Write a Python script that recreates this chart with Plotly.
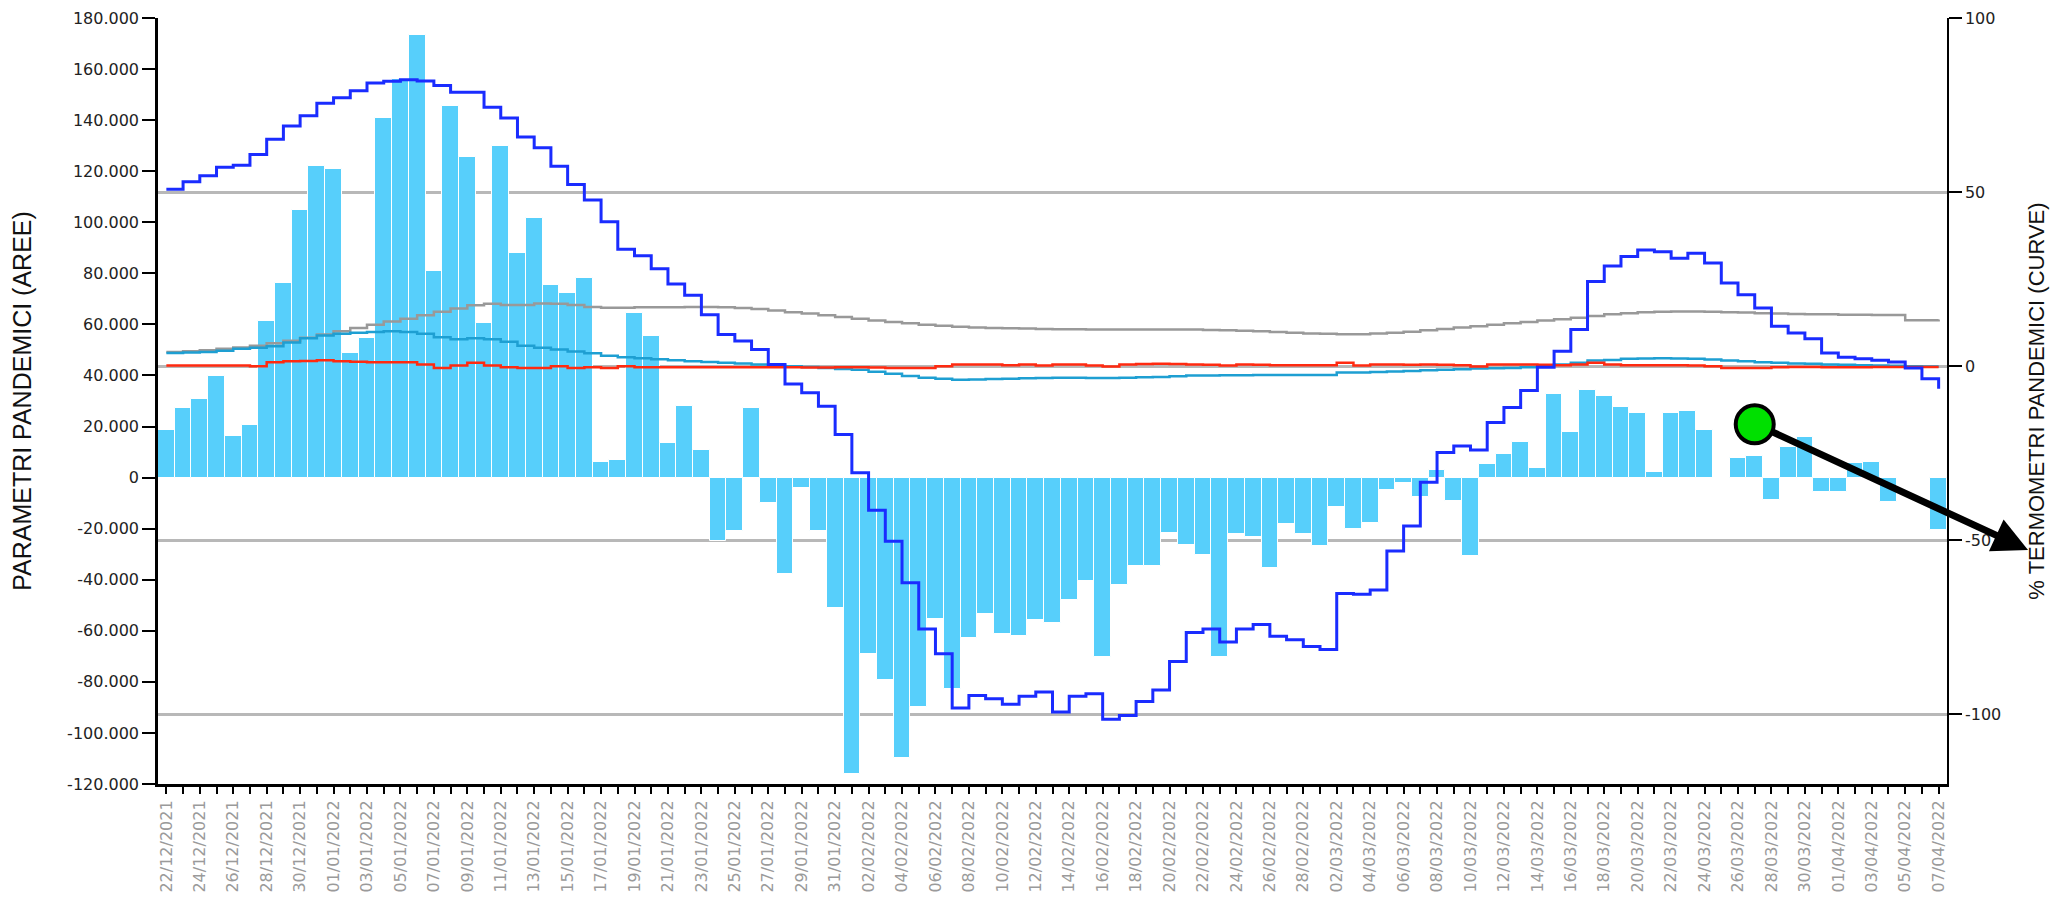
import pandas as pd
import plotly.graph_objects as go

# giorni dal 22/12/2021 al 07/04/2022
dates = [d.strftime("%d/%m/%Y") for d in pd.date_range("2021-12-22", "2022-04-07", freq="D")]

# aree (asse sinistro)
aree = [
    18500, 27200, 30600, 39700, 16200, 20700, 61400, 76100, 105000, 122000,
    121000, 48900, 54600, 140800, 156000, 173200, 80800, 145400, 125500, 60700,
    129900, 88100, 101700, 75400, 72200, 78200, 6300, 6800, 64600, 55400,
    13600, 28200, 10800, -25000, -20800, 27300, -10000, -37700, -4200, -20800,
    -51200, -116000, -68900, -79300, -110000, -89900, -55400, -82700, -62900, -53300,
    -61400, -62200, -55700, -57000, -48100, -40300, -70200, -42000, -34500, -34500,
    -21500, -26400, -30200, -70400, -22100, -23400, -35400, -18200, -22200, -26600,
    -11700, -20000, -17600, -4800, -2200, -7700, 3100, -9200, -30600, 5300,
    9200, 13900, 3600, 32700, 18000, 34200, 31900, 27500, 25200, 2200,
    25200, 26100, 18700, 0, 7800, 8400, -8700, 11800, 15900, -5500,
    -5500, 5900, 6300, -9600, 0, 0, -20700,
]

# curve (asse destro, %)
curva_blu = [
    50.8, 53.0, 54.7, 57.1, 57.7, 60.8, 65.2, 69.0, 71.9, 75.5,
    77.1, 79.1, 81.3, 81.8, 82.3, 81.9, 80.6, 78.7, 78.7, 74.4,
    71.3, 65.8, 62.7, 57.4, 52.2, 47.7, 41.5, 33.6, 31.7, 28.0,
    23.6, 20.4, 14.8, 9.1, 7.2, 4.8, 0.5, -5.1, -7.6, -11.5,
    -19.6, -30.6, -41.4, -50.3, -62.2, -75.5, -82.6, -98.2, -94.6, -95.5,
    -97.1, -94.8, -93.6, -99.3, -94.8, -94.1, -101.4, -100.3, -96.3, -93.0,
    -84.8, -76.5, -75.5, -79.2, -75.5, -74.2, -77.6, -78.6, -80.5, -81.4,
    -65.3, -65.5, -64.3, -53.1, -45.9, -33.3, -24.8, -22.9, -24.1, -16.2,
    -11.9, -7.0, -0.3, 4.3, 10.5, 24.3, 28.8, 31.5, 33.4, 32.9,
    31.0, 32.4, 29.6, 23.9, 20.5, 16.7, 11.5, 9.5, 7.9, 3.8,
    2.6, 2.1, 1.7, 1.2, -0.5, -3.6, -6.5,
]
curva_grigia = [
    4.1, 4.3, 4.6, 5.0, 5.4, 5.9, 6.6, 7.3, 8.2, 9.1,
    10.0, 11.0, 11.9, 12.8, 13.6, 14.6, 15.6, 16.6, 17.5, 17.9,
    17.6, 17.6, 18.0, 17.9, 17.6, 17.0, 16.8, 16.8, 16.9, 16.9,
    16.9, 17.0, 17.0, 16.9, 16.7, 16.4, 16.0, 15.5, 15.1, 14.6,
    14.1, 13.6, 13.1, 12.7, 12.3, 11.9, 11.6, 11.3, 11.1, 11.0,
    10.9, 10.8, 10.7, 10.6, 10.6, 10.5, 10.5, 10.5, 10.5, 10.5,
    10.5, 10.5, 10.4, 10.3, 10.2, 10.0, 9.8, 9.6, 9.4, 9.3,
    9.2, 9.2, 9.4, 9.6, 9.9, 10.3, 10.7, 11.1, 11.5, 11.9,
    12.3, 12.7, 13.1, 13.5, 13.9, 14.4, 14.9, 15.2, 15.5, 15.6,
    15.7, 15.7, 15.6, 15.5, 15.4, 15.2, 15.1, 15.0, 14.9, 14.9,
    14.8, 14.8, 14.7, 14.7, 13.2, 13.2, 13.4,
]
curva_azzurra = [
    3.8, 3.9, 4.1, 4.4, 5.0, 5.3, 5.7, 6.8, 8.0, 8.8,
    9.3, 9.6, 9.8, 10.0, 9.8, 9.3, 8.3, 7.7, 8.0, 7.7,
    7.0, 5.9, 5.3, 4.8, 4.2, 3.7, 3.0, 2.6, 2.3, 2.0,
    1.7, 1.4, 1.2, 1.0, 0.8, 0.5, 0.3, 0.0, -0.2, -0.5,
    -0.8, -1.0, -1.6, -2.2, -2.8, -3.3, -3.6, -3.9, -3.8, -3.7,
    -3.6, -3.5, -3.4, -3.3, -3.3, -3.4, -3.4, -3.3, -3.2, -3.1,
    -2.9, -2.7, -2.7, -2.6, -2.6, -2.5, -2.5, -2.5, -2.5, -2.5,
    -1.8, -1.8, -1.7, -1.5, -1.4, -1.2, -1.0, -0.9, -0.7, -0.6,
    -0.5, -0.3, 0.0, 0.5, 1.0, 1.6, 1.8, 2.1, 2.2, 2.3,
    2.2, 2.1, 1.9, 1.6, 1.4, 1.1, 1.0, 0.8, 0.7, 0.5,
    0.4, 0.3, 0.2, 0.1, 0.0, -0.1, -0.1,
]
curva_rossa = [
    0.2, 0.2, 0.2, 0.2, 0.2, 0.0, 1.1, 1.4, 1.5, 1.7,
    1.4, 1.3, 1.1, 1.1, 1.1, 0.5, -0.5, 0.2, 1.0, 0.2,
    -0.3, -0.5, -0.5, 0.0, -0.5, -0.3, -0.5, 0.0, -0.3, -0.3,
    -0.3, -0.3, -0.3, -0.3, -0.3, -0.3, -0.3, -0.3, -0.4, -0.4,
    -0.3, -0.3, -0.4, -0.5, -0.5, -0.5, 0.0, 0.5, 0.5, 0.5,
    0.3, 0.5, 0.2, 0.5, 0.5, 0.2, -0.1, 0.5, 0.6, 0.7,
    0.6, 0.5, 0.4, 0.2, 0.5, 0.4, 0.3, 0.3, 0.3, 0.3,
    1.0, 0.2, 0.5, 0.5, 0.4, 0.5, 0.4, 0.3, -0.1, 0.5,
    0.5, 0.5, 0.4, 0.3, 0.5, 1.0, 0.5, 0.3, 0.3, 0.3,
    0.3, 0.2, 0.0, -0.5, -0.5, -0.5, -0.3, -0.2, -0.2, -0.3,
    -0.3, -0.3, -0.2, -0.2, -0.2, -0.2, -0.2,
]

# indicatore (pallino verde)
marker_date = "27/03/2022"
marker_value = -16.7

left_ticks = list(range(-120000, 180001, 20000))
right_ticks = [-100, -50, 0, 50, 100]

fig = go.Figure()

fig.add_trace(go.Bar(
    x=dates, y=aree, yaxis="y",
    marker=dict(color="#57cffb", line=dict(color="white", width=1)),
))

for vals, col, w in [
    (curva_grigia, "#999999", 2.5),
    (curva_azzurra, "#1e9fd2", 2.5),
    (curva_rossa, "#ff2a10", 2.5),
    (curva_blu, "#1a2cff", 3),
]:
    fig.add_trace(go.Scatter(
        x=dates, y=vals, yaxis="y2", mode="lines",
        line=dict(color=col, width=w, shape="hv"),
    ))

fig.add_trace(go.Scatter(
    x=[marker_date], y=[marker_value], yaxis="y2", mode="markers",
    marker=dict(size=38, color="#00e000", line=dict(color="black", width=4)),
    cliponaxis=False,
))

fig.add_annotation(
    x=1.0453, y=0.3055, xref="paper", yref="paper",
    ax=-275, ay=-127, text="", showarrow=True,
    arrowhead=2, arrowsize=1, arrowwidth=7, arrowcolor="black",
    startstandoff=19,
)

# la pagina ha 8px di margine nel body
fig.update_layout(
    width=2061, height=890,
    margin=dict(l=150, r=122, t=10, b=114),
    plot_bgcolor="white", paper_bgcolor="white",
    showlegend=False, bargap=0,
    font=dict(family="DejaVu Sans", size=16, color="#222"),
    xaxis=dict(
        type="category", range=[-0.5, len(dates) - 0.5], automargin=False,
        tickmode="array", tickvals=dates,
        ticktext=[d if i % 2 == 0 else "" for i, d in enumerate(dates)],
        tickangle=-90, tickfont=dict(color="#9a9a9a", size=16),
        ticks="outside", ticklen=7, tickwidth=2, tickcolor="black",
        showline=True, linecolor="black", linewidth=3, showgrid=False,
    ),
    yaxis=dict(
        range=[-120000, 180000], tickmode="array", tickvals=left_ticks,
        ticktext=[f"{v:,}".replace(",", ".") for v in left_ticks],
        ticks="outside", ticklen=13, tickwidth=2, tickcolor="black",
        showline=True, linecolor="black", linewidth=2.5, automargin=False,
        showgrid=False, zeroline=False,
        title=dict(text="PARAMETRI PANDEMICI (AREE)", standoff=30,
                   font=dict(family="Liberation Sans", size=25, color="#111")),
    ),
    yaxis2=dict(
        overlaying="y", side="right", range=[-120, 100], automargin=False,
        tickmode="array", tickvals=right_ticks,
        ticktext=[str(v) for v in right_ticks],
        ticks="outside", ticklen=13, tickwidth=2, tickcolor="black",
        showline=True, linecolor="black", linewidth=1.5,
        showgrid=True, gridcolor="#b8b8b8", gridwidth=2.5, zeroline=False,
        title=dict(text="% TERMOMETRI PANDEMICI (CURVE)", standoff=28,
                   font=dict(family="Liberation Sans", size=22, color="#111")),
    ),
)

fig.write_html("out.html")
